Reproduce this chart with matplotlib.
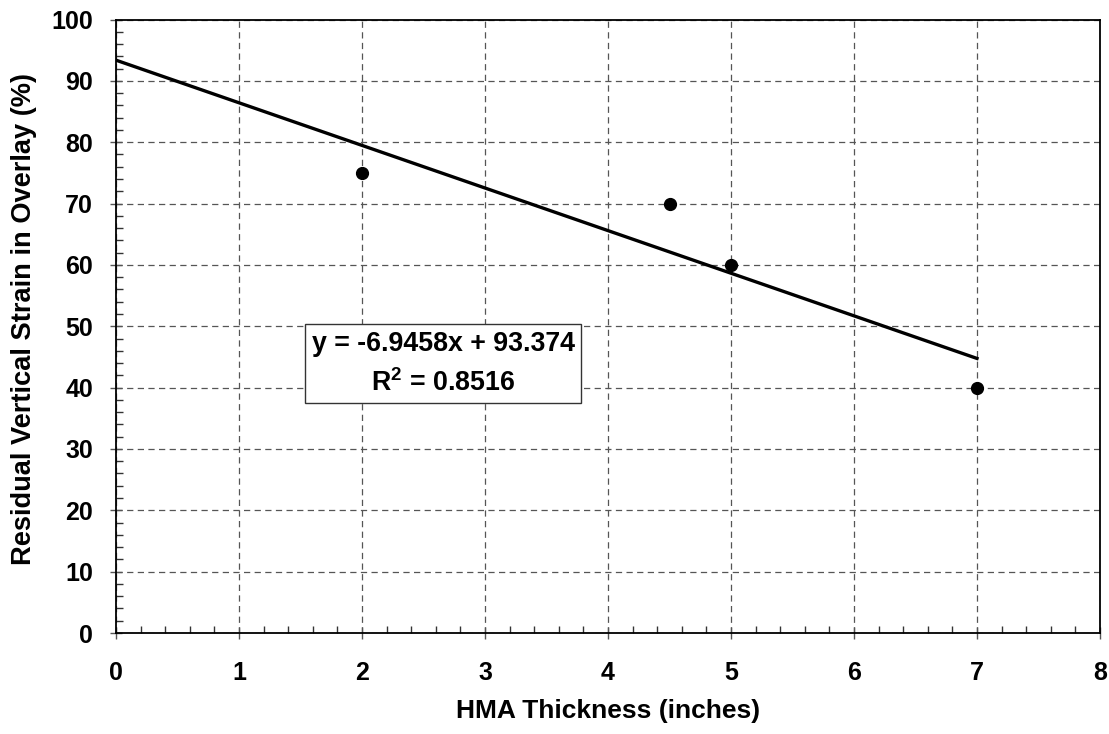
import matplotlib
matplotlib.use("Agg")
import matplotlib.pyplot as plt
import numpy as np
from matplotlib.ticker import MultipleLocator

thickness = [2, 4.5, 5, 7]
strain = [75, 70, 60, 40]
slope = -6.9458
intercept = 93.374
fit_x = [0, 7]

plt.rcParams['font.family'] = ['Liberation Sans', 'DejaVu Sans']
plt.rcParams['font.weight'] = 'bold'
plt.rcParams['mathtext.fontset'] = 'custom'
plt.rcParams['mathtext.bf'] = 'Liberation Sans:bold'
plt.rcParams['mathtext.rm'] = 'Liberation Sans:bold'

fig = plt.figure(figsize=(11.09, 7.34), dpi=100)
ax = fig.add_axes([0.1046, 0.1376, 0.8873, 0.8358])

fx = np.array(fit_x, dtype=float)
ax.plot(fx, slope * fx + intercept, color='black', lw=2.4, zorder=3)
ax.plot(thickness, strain, 'o', color='black', ms=8.5, zorder=4, clip_on=False)

ax.set_xlim(0, 8)
ax.set_ylim(0, 100)
ax.xaxis.set_major_locator(MultipleLocator(1))
ax.xaxis.set_minor_locator(MultipleLocator(0.2))
ax.yaxis.set_major_locator(MultipleLocator(10))
ax.yaxis.set_minor_locator(MultipleLocator(2))
ax.grid(True, which='major', color='#555555', ls=(0, (5, 3.5)), lw=0.9)
ax.tick_params(axis='x', which='major', direction='inout', length=9, width=1,
               labelsize=18, color='#555555', pad=16)
ax.tick_params(axis='y', which='major', direction='inout', length=9, width=1,
               labelsize=18, color='#555555', pad=12)
ax.tick_params(which='minor', direction='in', length=5, width=1, color='#333333')
for s in ax.spines.values():
    s.set_linewidth(1.3)
for lab in ax.get_xticklabels() + ax.get_yticklabels():
    lab.set_fontweight('bold')

ax.set_xlabel('HMA Thickness (inches)', fontsize=19, fontweight='bold', va='center')
ax.set_ylabel('Residual Vertical Strain in Overlay (%)', fontsize=19.6, fontweight='bold', va='center')
ax.xaxis.set_label_coords(0.5005, -0.127)
ax.yaxis.set_label_coords(-0.0935, 0.512)

ax.text(2.66, 43.9, 'y = -6.9458x + 93.374\nR$^{2}$ = 0.8516', ha='center', va='center',
        fontsize=19.3, fontweight='bold', linespacing=1.55, zorder=5,
        bbox=dict(boxstyle='square,pad=0.25', fc='white', ec='#333333', lw=1))

fig.savefig('out.png', dpi=100)
